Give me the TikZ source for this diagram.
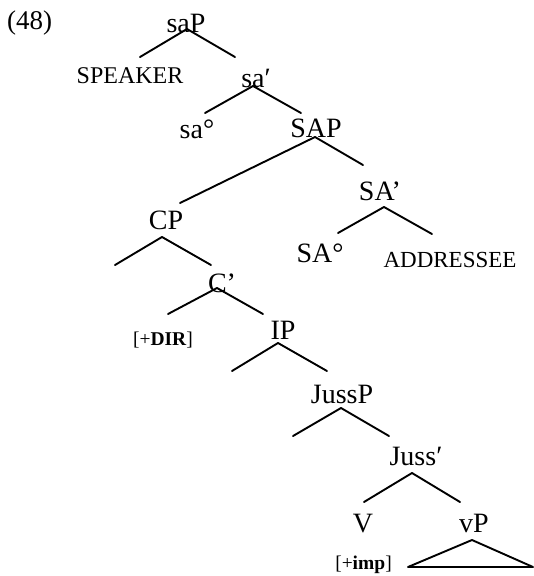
\documentclass[tikz,border=0pt]{standalone}
\usepackage{fontspec}
\setmainfont{Liberation Serif}
\begin{document}
\begin{tikzpicture}[x=1pt,y=-1pt,
  lbl/.style={anchor=base,inner sep=0pt,font=\fontsize{28}{32}\selectfont},
  caps/.style={anchor=base,inner sep=0pt,font=\fontsize{24}{28}\selectfont},
  feat/.style={anchor=base,inner sep=0pt,font=\fontsize{19.5}{22}\selectfont},
  branch/.style={line width=1.9pt,line cap=round,line join=round}]
\path[use as bounding box] (0,0) rectangle (534,576);

% example number
\node[lbl,font=\fontsize{27}{30}\selectfont] (ex) at (29.5,29) {(48)};

% labels
\node[lbl] (saP)     at (186,32)  {saP};
\node[caps] (spk)    at (130,83)  {SPEAKER};
\node[lbl] (sabar)   at (256,87)  {sa′};
\node[lbl] (sahead)  at (197,138) {sa°};
\node[lbl] (SAP)     at (316,137) {SAP};
\node[lbl] (SAbar)   at (380,200) {SA’};
\node[lbl] (SAhead)  at (320,262) {SA°};
\node[caps,font=\fontsize{23}{27}\selectfont] (addr) at (450,267) {ADDRESSEE};
\node[lbl] (CP)      at (166,229) {CP};
\node[lbl] (Cbar)    at (222,292) {C’};
\node[feat] (dir)    at (163,345) {[+\textbf{DIR}]};
\node[lbl] (IP)      at (283,339) {IP};
\node[lbl] (JussP)   at (342,403) {JussP};
\node[lbl] (Jussbar) at (416,465) {Juss′};
\node[lbl] (V)       at (363,532) {V};
\node[lbl] (vP)      at (474,532) {vP};
\node[feat] (imp)    at (363.5,569) {[+\textbf{imp}]};

% branch points
\coordinate (saP-t)   at (187,29);
\coordinate (saP-l)   at (140,57);
\coordinate (saP-r)   at (235,57);
\coordinate (sab-t)   at (253,86);
\coordinate (sab-l)   at (205,113);
\coordinate (sab-r)   at (301,113);
\coordinate (SAP-t)   at (315,137);
\coordinate (SAP-l)   at (180,203);
\coordinate (SAP-r)   at (363,165);
\coordinate (SAb-t)   at (384,207);
\coordinate (SAb-l)   at (338,233);
\coordinate (SAb-r)   at (432,234);
\coordinate (CP-t)    at (162,237);
\coordinate (CP-l)    at (115,265);
\coordinate (CP-r)    at (211,265);
\coordinate (Cb-t)    at (217,288);
\coordinate (Cb-l)    at (168,314);
\coordinate (Cb-r)    at (263,314);
\coordinate (IP-t)    at (278,343);
\coordinate (IP-l)    at (232,371);
\coordinate (IP-r)    at (327,371);
\coordinate (JP-t)    at (341,408);
\coordinate (JP-l)    at (293,436);
\coordinate (JP-r)    at (389,436);
\coordinate (Jb-t)    at (412,473);
\coordinate (Jb-l)    at (364,502);
\coordinate (Jb-r)    at (460,502);
\coordinate (vP-t)    at (472,540);
\coordinate (vP-l)    at (408,567);
\coordinate (vP-r)    at (533,567);

% branches
\draw[branch] (saP-l) -- (saP-t) -- (saP-r);
\draw[branch] (sab-l) -- (sab-t) -- (sab-r);
\draw[branch] (SAP-l) -- (SAP-t) -- (SAP-r);
\draw[branch] (SAb-l) -- (SAb-t) -- (SAb-r);
\draw[branch] (CP-l) -- (CP-t) -- (CP-r);
\draw[branch] (Cb-l) -- (Cb-t) -- (Cb-r);
\draw[branch] (IP-l) -- (IP-t) -- (IP-r);
\draw[branch] (JP-l) -- (JP-t) -- (JP-r);
\draw[branch] (Jb-l) -- (Jb-t) -- (Jb-r);
% collapsed vP
\draw[branch] (vP-t) -- (vP-l) -- (vP-r) -- cycle;
\end{tikzpicture}
\end{document}
